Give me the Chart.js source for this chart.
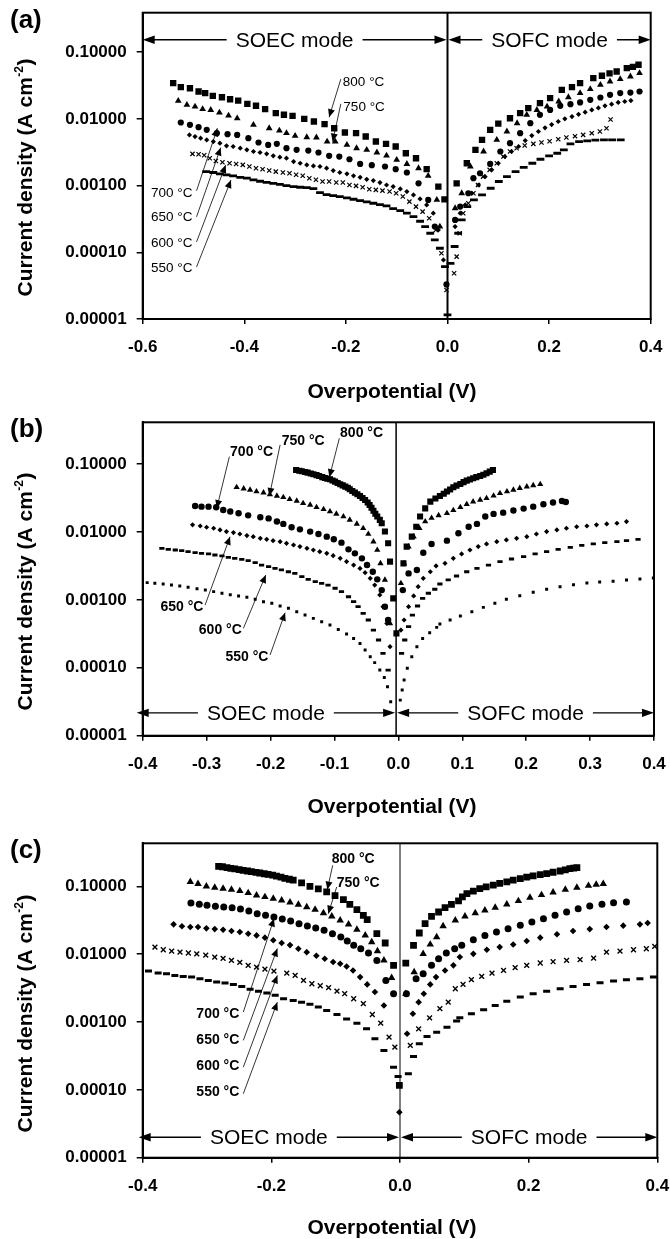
<!DOCTYPE html>
<html><head><meta charset="utf-8">
<script src="https://cdn.jsdelivr.net/npm/chart.js@4.4.1/dist/chart.umd.min.js"></script>
<style>
html,body{margin:0;padding:0;background:#fff;}
#wrap{position:relative;width:670px;height:1239px;overflow:hidden;background:#fff;}
#wrap canvas{position:absolute;left:0;}
</style></head>
<body><div id="wrap">
<canvas id="cA" width="670" height="410" style="top:0px"></canvas>
<canvas id="cB" width="670" height="410" style="top:410px"></canvas>
<canvas id="cC" width="670" height="419" style="top:820px"></canvas>
</div>
<script>
// ---------- tick labels ----------
const yTickVals = [0.00001, 0.0001, 0.001, 0.01, 0.1];
const yTickLabels = ['0.00001', '0.00010', '0.00100', '0.01000', '0.10000'];
const xTicksA = [-0.6, -0.4, -0.2, 0.0, 0.2, 0.4];
const xTickLabelsA = ['-0.6', '-0.4', '-0.2', '0.0', '0.2', '0.4'];
const xTicksB = [-0.4, -0.3, -0.2, -0.1, 0.0, 0.1, 0.2, 0.3, 0.4];
const xTickLabelsB = ['-0.4', '-0.3', '-0.2', '-0.1', '0.0', '0.1', '0.2', '0.3', '0.4'];
const xTicksC = [-0.4, -0.2, 0.0, 0.2, 0.4];
const xTickLabelsC = ['-0.4', '-0.2', '0.0', '0.2', '0.4'];
const seriesNames = ['800 °C', '750 °C', '700 °C', '650 °C', '600 °C', '550 °C'];

// ---------- panel (a) data: [overpotential V, current density A cm-2] ----------
const a800 = [[-0.540,0.0343],[-0.525,0.0299],[-0.507,0.0288],[-0.490,0.0257],[-0.477,0.0243],[-0.462,0.0221],[-0.444,0.0211],[-0.428,0.0197],[-0.412,0.0188],[-0.394,0.0168],[-0.377,0.0157],[-0.359,0.0140],[-0.338,0.0122],[-0.322,0.0115],[-0.305,0.0111],[-0.282,0.0100],[-0.263,0.00912],[-0.242,0.00832],[-0.223,0.00724],[-0.202,0.00624],[-0.180,0.00610],[-0.161,0.00543],[-0.141,0.00457],[-0.121,0.00422],[-0.102,0.00385],[-0.082,0.00305],[-0.062,0.00257],[-0.041,0.00176],[-0.018,0.000966],[-0.006,0.00062],
[0.018,0.00108],[0.038,0.00216],[0.055,0.00343],[0.068,0.00484],[0.084,0.00684],[0.100,0.0085],[0.123,0.0102],[0.143,0.0122],[0.159,0.0145],[0.182,0.0172],[0.202,0.0204],[0.225,0.0272],[0.245,0.0299],[0.261,0.0343],[0.287,0.0407],[0.304,0.0442],[0.319,0.0480],[0.333,0.0513],[0.353,0.0575],[0.365,0.0600],[0.376,0.0646]];
const a750 = [[-0.530,0.0186],[-0.513,0.0162],[-0.497,0.0153],[-0.482,0.0140],[-0.466,0.0136],[-0.449,0.0124],[-0.431,0.0112],[-0.414,0.0102],[-0.382,0.00813],[-0.351,0.00724],[-0.331,0.00668],[-0.317,0.00610],[-0.300,0.00556],[-0.277,0.00531],[-0.258,0.00525],[-0.237,0.00457],[-0.221,0.00457],[-0.198,0.00407],[-0.179,0.00363],[-0.159,0.00343],[-0.139,0.00313],[-0.120,0.00282],[-0.100,0.00243],[-0.080,0.00211],[-0.057,0.00182],[-0.038,0.00140],[-0.021,0.00061],[-0.015,0.000243],
[0.015,0.000457],[0.028,0.000767],[0.045,0.00193],[0.071,0.00324],[0.097,0.00484],[0.117,0.00646],[0.137,0.00861],[0.156,0.0115],[0.176,0.0136],[0.196,0.0153],[0.219,0.0182],[0.238,0.0211],[0.261,0.0243],[0.281,0.0279],[0.301,0.0324],[0.320,0.0363],[0.340,0.0394],[0.360,0.0432],[0.378,0.0484]];
const a700 = [[-0.525,0.00881],[-0.507,0.00813],[-0.490,0.00750],[-0.474,0.00684],[-0.454,0.00610],[-0.433,0.00589],[-0.414,0.00575],[-0.392,0.00513],[-0.372,0.00442],[-0.353,0.00407],[-0.336,0.00422],[-0.317,0.00363],[-0.297,0.00343],[-0.274,0.00335],[-0.254,0.00313],[-0.233,0.00279],[-0.213,0.00272],[-0.193,0.00248],[-0.172,0.00211],[-0.149,0.00202],[-0.123,0.00193],[-0.102,0.00176],[-0.080,0.00157],[-0.057,0.00108],[-0.038,0.00061],[-0.025,0.000243],[-0.002,0.000033],
[0.015,0.000305],[0.025,0.000484],[0.041,0.000767],[0.051,0.00129],[0.064,0.00153],[0.084,0.00211],[0.104,0.00324],[0.123,0.00432],[0.143,0.00610],[0.163,0.00861],[0.182,0.0115],[0.202,0.0136],[0.222,0.0157],[0.242,0.0166],[0.261,0.0176],[0.281,0.0193],[0.301,0.0209],[0.320,0.0229],[0.340,0.0243],[0.360,0.0248],[0.378,0.0257]];
const a650 = [[-0.508,0.00575],[-0.497,0.00543],[-0.486,0.00513],[-0.474,0.00484],[-0.461,0.00457],[-0.448,0.00432],[-0.435,0.00394],[-0.422,0.00385],[-0.408,0.00363],[-0.395,0.00343],[-0.382,0.00324],[-0.369,0.00313],[-0.356,0.00299],[-0.343,0.00279],[-0.330,0.00266],[-0.317,0.00257],[-0.303,0.00229],[-0.290,0.00216],[-0.277,0.00204],[-0.264,0.00197],[-0.251,0.00193],[-0.238,0.00182],[-0.225,0.00168],[-0.212,0.00157],[-0.198,0.00150],[-0.185,0.00140],[-0.172,0.00133],[-0.159,0.00124],[-0.146,0.00119],[-0.133,0.00111],[-0.120,0.00102],[-0.107,0.000966],[-0.093,0.000891],[-0.080,0.000813],[-0.067,0.000724],[-0.054,0.000631],[-0.041,0.000513],[-0.028,0.000385],[-0.018,0.000216],[-0.008,0.0000767],
[0.015,0.000243],[0.025,0.000385],[0.035,0.000513],[0.048,0.000767],[0.061,0.00102],[0.074,0.00136],[0.087,0.00172],[0.100,0.00216],[0.113,0.00272],[0.126,0.00324],[0.140,0.00385],[0.153,0.00473],[0.166,0.00562],[0.179,0.00646],[0.192,0.00733],[0.205,0.00822],[0.218,0.00912],[0.231,0.0100],[0.245,0.0108],[0.258,0.0117],[0.271,0.0126],[0.284,0.0136],[0.297,0.0146],[0.310,0.0157],[0.323,0.0166],[0.336,0.0176],[0.349,0.0182],[0.361,0.0188]];
const a600 = [[-0.502,0.00299],[-0.490,0.00295],[-0.479,0.00285],[-0.468,0.00257],[-0.456,0.00234],[-0.443,0.00224],[-0.429,0.00216],[-0.416,0.00211],[-0.403,0.00204],[-0.390,0.00193],[-0.377,0.00182],[-0.364,0.00176],[-0.351,0.00168],[-0.338,0.00162],[-0.324,0.00157],[-0.311,0.00153],[-0.298,0.00145],[-0.285,0.00140],[-0.272,0.00129],[-0.259,0.00122],[-0.246,0.00115],[-0.233,0.00115],[-0.219,0.00111],[-0.206,0.00111],[-0.193,0.00102],[-0.180,0.000989],[-0.167,0.000944],[-0.154,0.000881],[-0.141,0.000861],[-0.128,0.000841],[-0.114,0.000813],[-0.101,0.000767],[-0.088,0.000684],[-0.075,0.000575],[-0.062,0.000484],[-0.049,0.000407],[-0.036,0.000324],[-0.023,0.000216],[-0.012,0.0000966],[-0.002,0.0000272],
[0.013,0.0000484],[0.018,0.0000861],[0.024,0.000193],[0.031,0.000385],[0.041,0.000543],[0.051,0.000767],[0.060,0.00102],[0.070,0.00136],[0.083,0.00172],[0.097,0.00216],[0.110,0.00272],[0.123,0.00324],[0.136,0.00363],[0.152,0.00398],[0.169,0.00422],[0.185,0.00442],[0.201,0.00462],[0.218,0.00495],[0.234,0.00525],[0.251,0.00550],[0.267,0.00575],[0.284,0.00610],[0.300,0.00646],[0.313,0.00724],[0.321,0.0098]];
const a550 = [[-0.475,0.00162],[-0.461,0.00157],[-0.448,0.00150],[-0.435,0.00145],[-0.422,0.00140],[-0.408,0.00133],[-0.395,0.00129],[-0.382,0.00122],[-0.369,0.00116],[-0.356,0.00112],[-0.343,0.00108],[-0.330,0.00104],[-0.317,0.00100],[-0.303,0.000966],[-0.290,0.000944],[-0.277,0.000933],[-0.264,0.000902],[-0.251,0.000785],[-0.238,0.000733],[-0.225,0.000708],[-0.212,0.000684],[-0.198,0.000653],[-0.185,0.000624],[-0.172,0.000596],[-0.159,0.000569],[-0.146,0.000543],[-0.133,0.000519],[-0.120,0.000495],[-0.107,0.000452],[-0.093,0.000422],[-0.080,0.000385],[-0.067,0.000343],[-0.054,0.000292],[-0.044,0.000243],[-0.034,0.000193],[-0.025,0.000153],[-0.015,0.000115],[-0.005,0.0000610],[0.000,0.0000115],
[0.006,0.0000684],[0.014,0.000122],[0.021,0.000193],[0.028,0.000305],[0.039,0.000484],[0.052,0.000610],[0.068,0.000724],[0.085,0.000912],[0.101,0.00115],[0.117,0.00136],[0.134,0.00162],[0.150,0.00188],[0.167,0.00216],[0.183,0.00248],[0.200,0.00279],[0.216,0.00305],[0.229,0.00343],[0.242,0.00422],[0.259,0.00457],[0.275,0.00468],[0.291,0.00479],[0.308,0.00484],[0.324,0.00484],[0.341,0.00484]];

// ---------- panel (b) data ----------
const b800 = [[-0.160,0.0816],[-0.155,0.0795],[-0.151,0.0780],[-0.146,0.0760],[-0.142,0.0745],[-0.137,0.0725],[-0.133,0.0705],[-0.128,0.0685],[-0.124,0.0665],[-0.119,0.0640],[-0.115,0.0622],[-0.111,0.0608],[-0.107,0.0594],[-0.103,0.0570],[-0.099,0.0549],[-0.095,0.0525],[-0.091,0.0502],[-0.087,0.0483],[-0.083,0.0464],[-0.079,0.0445],[-0.076,0.0424],[-0.072,0.0400],[-0.068,0.0378],[-0.064,0.0358],[-0.060,0.0338],[-0.056,0.0315],[-0.052,0.0295],[-0.048,0.0270],[-0.045,0.0249],[-0.042,0.0227],[-0.039,0.0205],[-0.036,0.0185],[-0.033,0.0168],[-0.029,0.0150],[-0.026,0.0134],[-0.021,0.0101],[-0.016,0.00679],[-0.013,0.00365],[-0.008,0.00105],[-0.003,0.000321],
[0.008,0.00344],[0.013,0.00607],[0.021,0.00851],[0.028,0.0119],[0.034,0.0168],[0.042,0.0222],[0.050,0.0279],[0.058,0.0310],[0.065,0.0338],[0.071,0.0365],[0.076,0.0392],[0.081,0.0420],[0.086,0.0453],[0.091,0.0480],[0.097,0.0507],[0.102,0.0540],[0.107,0.0568],[0.112,0.0590],[0.117,0.0615],[0.122,0.0640],[0.128,0.0665],[0.133,0.0695],[0.138,0.0728],[0.143,0.0770],[0.148,0.0816]];
const b750 = [[-0.253,0.0453],[-0.242,0.0433],[-0.232,0.0414],[-0.222,0.0392],[-0.211,0.0378],[-0.201,0.0357],[-0.190,0.0338],[-0.180,0.0323],[-0.170,0.0302],[-0.159,0.0285],[-0.149,0.0264],[-0.138,0.0249],[-0.128,0.0230],[-0.117,0.0215],[-0.107,0.0199],[-0.097,0.0184],[-0.086,0.0168],[-0.076,0.0150],[-0.065,0.0131],[-0.055,0.0113],[-0.047,0.00931],[-0.039,0.00718],[-0.033,0.00541],[-0.028,0.00344],[-0.021,0.00196],[-0.013,0.000450],
[0.004,0.00175],[0.009,0.00344],[0.016,0.00607],[0.024,0.00851],[0.033,0.0113],[0.042,0.0142],[0.052,0.0160],[0.063,0.0175],[0.076,0.0188],[0.086,0.0208],[0.097,0.0230],[0.107,0.0255],[0.117,0.0279],[0.128,0.0295],[0.138,0.0312],[0.149,0.0340],[0.159,0.0370],[0.170,0.0392],[0.180,0.0414],[0.190,0.0440],[0.201,0.0464],[0.211,0.0484],[0.222,0.0502]];
const b700 = [[-0.318,0.0240],[-0.308,0.0235],[-0.297,0.0235],[-0.285,0.0230],[-0.274,0.0210],[-0.263,0.0199],[-0.250,0.0188],[-0.235,0.0175],[-0.216,0.0164],[-0.203,0.0158],[-0.190,0.0142],[-0.180,0.0131],[-0.167,0.0117],[-0.154,0.0109],[-0.138,0.0101],[-0.125,0.00931],[-0.112,0.00851],[-0.101,0.00778],[-0.089,0.00694],[-0.078,0.00553],[-0.068,0.00483],[-0.057,0.00408],[-0.049,0.00325],[-0.040,0.00259],[-0.033,0.00200],[-0.026,0.00139],[-0.021,0.000792],[-0.016,0.000505],
[0.007,0.00139],[0.016,0.00245],[0.029,0.00275],[0.039,0.00494],[0.052,0.00664],[0.076,0.00743],[0.094,0.00953],[0.110,0.0119],[0.123,0.0131],[0.136,0.0168],[0.149,0.0184],[0.164,0.0192],[0.180,0.0206],[0.196,0.0220],[0.211,0.0235],[0.227,0.0255],[0.242,0.0270],[0.256,0.0285],[0.262,0.0275]];
const b650 = [[-0.322,0.0127],[-0.310,0.0122],[-0.300,0.0117],[-0.289,0.0113],[-0.279,0.0107],[-0.269,0.0101],[-0.258,0.00975],[-0.248,0.00931],[-0.237,0.00881],[-0.227,0.00851],[-0.216,0.00804],[-0.206,0.00778],[-0.196,0.00743],[-0.185,0.00718],[-0.175,0.00679],[-0.164,0.00641],[-0.154,0.00607],[-0.143,0.00573],[-0.133,0.00541],[-0.123,0.00512],[-0.112,0.00483],[-0.102,0.00447],[-0.091,0.00408],[-0.081,0.00365],[-0.070,0.00325],[-0.060,0.00290],[-0.052,0.00251],[-0.044,0.00207],[-0.037,0.00165],[-0.029,0.00118],[-0.024,0.000792],[-0.018,0.000450],[-0.013,0.000204],
[0.004,0.000359],[0.009,0.000505],[0.016,0.000792],[0.024,0.00114],[0.031,0.00156],[0.039,0.00207],[0.050,0.00259],[0.059,0.00315],[0.073,0.00344],[0.086,0.00408],[0.099,0.00473],[0.112,0.00541],[0.125,0.00607],[0.138,0.00664],[0.154,0.00718],[0.169,0.00760],[0.185,0.00804],[0.201,0.00851],[0.216,0.00931],[0.232,0.0101],[0.248,0.0107],[0.263,0.0113],[0.279,0.0119],[0.295,0.0122],[0.310,0.0127],[0.326,0.0131],[0.342,0.0134],[0.357,0.0142]];
const b600 = [[-0.370,0.00573],[-0.360,0.00553],[-0.349,0.00541],[-0.339,0.00529],[-0.329,0.00512],[-0.318,0.00494],[-0.308,0.00483],[-0.297,0.00473],[-0.287,0.00457],[-0.276,0.00442],[-0.266,0.00422],[-0.256,0.00408],[-0.245,0.00394],[-0.235,0.00377],[-0.224,0.00352],[-0.214,0.00325],[-0.203,0.00308],[-0.193,0.00290],[-0.183,0.00275],[-0.172,0.00259],[-0.162,0.00245],[-0.151,0.00219],[-0.141,0.00200],[-0.130,0.00185],[-0.120,0.00175],[-0.110,0.00165],[-0.099,0.00148],[-0.089,0.00132],[-0.078,0.00111],[-0.070,0.000938],[-0.063,0.000792],[-0.055,0.000632],[-0.047,0.000505],[-0.039,0.000359],[-0.031,0.000256],[-0.024,0.000163],[-0.016,0.0000925],
[0.005,0.000163],[0.010,0.000256],[0.016,0.000402],[0.022,0.000597],[0.030,0.000811],[0.038,0.00105],[0.047,0.00125],[0.057,0.00143],[0.065,0.00171],[0.078,0.00196],[0.091,0.00224],[0.107,0.00259],[0.123,0.00290],[0.141,0.00325],[0.159,0.00365],[0.177,0.00399],[0.196,0.00432],[0.214,0.00473],[0.232,0.00512],[0.250,0.00553],[0.269,0.00593],[0.287,0.00634],[0.305,0.00664],[0.323,0.00694],[0.342,0.00718],[0.357,0.00743],[0.375,0.00778]];
const b550 = [[-0.393,0.00179],[-0.381,0.00175],[-0.368,0.00171],[-0.355,0.00165],[-0.342,0.00160],[-0.329,0.00153],[-0.315,0.00146],[-0.302,0.00139],[-0.289,0.00132],[-0.276,0.00125],[-0.263,0.00119],[-0.250,0.00114],[-0.237,0.00109],[-0.224,0.00102],[-0.211,0.000938],[-0.198,0.000887],[-0.185,0.000811],[-0.172,0.000749],[-0.159,0.000668],[-0.146,0.000597],[-0.133,0.000533],[-0.120,0.000476],[-0.107,0.000425],[-0.094,0.000367],[-0.081,0.000313],[-0.070,0.000270],[-0.060,0.000228],[-0.052,0.000182],[-0.044,0.000145],[-0.037,0.000119],[-0.029,0.0000925],[-0.022,0.0000721],[-0.017,0.0000526],[-0.012,0.0000316],
[0.003,0.0000334],[0.006,0.0000470],[0.009,0.0000659],[0.014,0.0000980],[0.021,0.000145],[0.029,0.000204],[0.038,0.000270],[0.049,0.000328],[0.060,0.000393],[0.065,0.000441],[0.081,0.000505],[0.097,0.000577],[0.115,0.000668],[0.133,0.000774],[0.151,0.000887],[0.169,0.00102],[0.190,0.00115],[0.211,0.00129],[0.232,0.00143],[0.253,0.00156],[0.274,0.00167],[0.295,0.00177],[0.315,0.00183],[0.336,0.00187],[0.357,0.00196],[0.378,0.00202],[0.399,0.00209]];

// ---------- panel (c) data ----------
const c800 = [[-0.282,0.197],[-0.276,0.194],[-0.269,0.188],[-0.263,0.184],[-0.257,0.180],[-0.250,0.176],[-0.244,0.172],[-0.237,0.168],[-0.231,0.164],[-0.224,0.160],[-0.218,0.157],[-0.211,0.153],[-0.205,0.150],[-0.198,0.146],[-0.192,0.141],[-0.185,0.136],[-0.179,0.131],[-0.172,0.127],[-0.166,0.123],[-0.153,0.112],[-0.140,0.100],[-0.127,0.0914],[-0.114,0.0825],[-0.101,0.0728],[-0.088,0.0635],[-0.078,0.0542],[-0.067,0.0453],[-0.057,0.0373],[-0.051,0.0322],[-0.036,0.0200],[-0.023,0.0146],[-0.010,0.00683],[-0.001,0.000116],
[0.009,0.00739],[0.021,0.0135],[0.030,0.0205],[0.039,0.0281],[0.049,0.0361],[0.060,0.0418],[0.070,0.0484],[0.080,0.0542],[0.091,0.0608],[0.097,0.0700],[0.104,0.0780],[0.114,0.0850],[0.124,0.0925],[0.134,0.0980],[0.145,0.104],[0.155,0.110],[0.166,0.116],[0.176,0.123],[0.187,0.130],[0.197,0.136],[0.207,0.142],[0.218,0.148],[0.228,0.154],[0.238,0.161],[0.249,0.168],[0.257,0.175],[0.264,0.182],[0.270,0.185],[0.275,0.188]];
const c750 = [[-0.326,0.116],[-0.314,0.109],[-0.301,0.100],[-0.288,0.0955],[-0.275,0.0925],[-0.262,0.0893],[-0.249,0.0853],[-0.236,0.0797],[-0.223,0.0736],[-0.210,0.0696],[-0.197,0.0657],[-0.184,0.0621],[-0.171,0.0581],[-0.158,0.0536],[-0.145,0.0495],[-0.132,0.0453],[-0.119,0.0404],[-0.106,0.0361],[-0.093,0.0315],[-0.080,0.0275],[-0.067,0.0230],[-0.054,0.0189],[-0.044,0.0151],[-0.035,0.0111],[-0.025,0.00809],[-0.013,0.00449],
[0.009,0.00261],[0.022,0.00545],[0.036,0.0101],[0.047,0.0139],[0.057,0.0179],[0.067,0.0260],[0.086,0.0315],[0.101,0.0361],[0.117,0.0404],[0.132,0.0442],[0.148,0.0484],[0.166,0.0542],[0.184,0.0608],[0.202,0.0681],[0.220,0.0745],[0.238,0.0815],[0.257,0.0893],[0.275,0.0955],[0.293,0.102],[0.305,0.106],[0.316,0.109]];
const c700 = [[-0.325,0.0568],[-0.312,0.0542],[-0.300,0.0525],[-0.287,0.0507],[-0.274,0.0495],[-0.261,0.0484],[-0.248,0.0463],[-0.235,0.0432],[-0.222,0.0395],[-0.209,0.0373],[-0.196,0.0352],[-0.183,0.0330],[-0.170,0.0308],[-0.157,0.0281],[-0.144,0.0260],[-0.131,0.0243],[-0.118,0.0224],[-0.105,0.0200],[-0.092,0.0179],[-0.082,0.0156],[-0.072,0.0135],[-0.061,0.0120],[-0.049,0.0104],[-0.036,0.00809],[-0.022,0.00410],[-0.010,0.00261],
[0.010,0.00261],[0.025,0.00434],[0.036,0.00514],[0.049,0.00683],[0.060,0.00857],[0.072,0.0104],[0.085,0.0120],[0.096,0.0135],[0.114,0.0163],[0.132,0.0189],[0.150,0.0212],[0.168,0.0237],[0.187,0.0266],[0.205,0.0298],[0.223,0.0333],[0.241,0.0373],[0.259,0.0418],[0.277,0.0468],[0.295,0.0513],[0.314,0.0542],[0.332,0.0574],[0.352,0.0587]];
const c650 = [[-0.352,0.0275],[-0.339,0.0257],[-0.326,0.0251],[-0.314,0.0251],[-0.301,0.0240],[-0.288,0.0234],[-0.275,0.0229],[-0.262,0.0219],[-0.249,0.0212],[-0.236,0.0200],[-0.223,0.0189],[-0.210,0.0175],[-0.197,0.0160],[-0.184,0.0146],[-0.171,0.0136],[-0.158,0.0120],[-0.145,0.0107],[-0.130,0.00948],[-0.117,0.00857],[-0.104,0.00764],[-0.093,0.00722],[-0.083,0.00659],[-0.073,0.00575],[-0.062,0.00459],[-0.051,0.00358],[-0.039,0.00276],[-0.025,0.00175],[-0.001,0.0000468],
[0.011,0.000670],[0.020,0.00132],[0.029,0.00196],[0.037,0.00261],[0.047,0.00358],[0.056,0.00459],[0.070,0.00575],[0.083,0.00683],[0.093,0.00906],[0.114,0.0101],[0.135,0.0116],[0.155,0.0127],[0.176,0.0139],[0.197,0.0156],[0.218,0.0175],[0.244,0.0196],[0.269,0.0219],[0.295,0.0234],[0.321,0.0251],[0.347,0.0263],[0.373,0.0275],[0.385,0.0288]];
const c600 = [[-0.381,0.0127],[-0.368,0.0116],[-0.355,0.0111],[-0.342,0.0107],[-0.329,0.0104],[-0.316,0.0101],[-0.302,0.00970],[-0.288,0.00906],[-0.275,0.00866],[-0.262,0.00809],[-0.249,0.00756],[-0.236,0.00683],[-0.223,0.00645],[-0.210,0.00602],[-0.196,0.00563],[-0.176,0.00526],[-0.163,0.00486],[-0.150,0.00410],[-0.137,0.00366],[-0.124,0.00342],[-0.111,0.00320],[-0.098,0.00285],[-0.086,0.00261],[-0.072,0.00220],[-0.057,0.00186],[-0.043,0.00129],[-0.030,0.000962],[-0.017,0.000598],[-0.008,0.000425],
[0.016,0.000451],[0.029,0.000794],[0.046,0.00115],[0.062,0.00157],[0.075,0.00196],[0.086,0.00309],[0.098,0.00358],[0.111,0.00420],[0.127,0.00470],[0.143,0.00526],[0.161,0.00575],[0.179,0.00631],[0.197,0.00683],[0.218,0.00740],[0.238,0.00773],[0.259,0.00809],[0.280,0.00828],[0.301,0.00875],[0.321,0.0107],[0.342,0.0111],[0.363,0.0116],[0.383,0.0120],[0.396,0.0130]];
const c550 = [[-0.391,0.00563],[-0.376,0.00526],[-0.363,0.00514],[-0.350,0.00486],[-0.337,0.00470],[-0.324,0.00459],[-0.311,0.00434],[-0.298,0.00410],[-0.285,0.00387],[-0.272,0.00375],[-0.259,0.00358],[-0.246,0.00334],[-0.233,0.00305],[-0.220,0.00285],[-0.207,0.00267],[-0.194,0.00247],[-0.181,0.00220],[-0.166,0.00208],[-0.153,0.00196],[-0.140,0.00182],[-0.127,0.00166],[-0.114,0.00148],[-0.098,0.00129],[-0.083,0.00111],[-0.067,0.000962],[-0.052,0.000794],[-0.039,0.000565],[-0.025,0.000380],[-0.010,0.000216],[-0.003,0.000157],
[0.013,0.000172],[0.021,0.000310],[0.030,0.000476],[0.042,0.000612],[0.057,0.000708],[0.073,0.000839],[0.088,0.00103],[0.093,0.00115],[0.111,0.00132],[0.130,0.00151],[0.148,0.00175],[0.166,0.00203],[0.187,0.00233],[0.207,0.00261],[0.228,0.00285],[0.249,0.00309],[0.269,0.00334],[0.290,0.00358],[0.311,0.00379],[0.332,0.00401],[0.352,0.00420],[0.373,0.00434],[0.394,0.00459]];

// ---------- annotation anchors (in data units) ----------
const annA = [
  {t:seriesNames[0], tx:-0.206, ty:0.0358, al:'left', x1:-0.210, y1:0.0394, x2:-0.233, y2:0.0106},
  {t:seriesNames[1], tx:-0.205, ty:0.0149, al:'left', x1:-0.210, y1:0.0168, x2:-0.226, y2:0.00455},
  {t:seriesNames[2], tx:-0.502, ty:0.000764, al:'right', x1:-0.494, y1:0.000836, x2:-0.453, y2:0.00723},
  {t:seriesNames[3], tx:-0.502, ty:0.000329, al:'right', x1:-0.494, y1:0.000340, x2:-0.4465, y2:0.00370},
  {t:seriesNames[4], tx:-0.502, ty:0.000138, al:'right', x1:-0.494, y1:0.000143, x2:-0.4366, y2:0.00203},
  {t:seriesNames[5], tx:-0.502, ty:0.0000571, al:'right', x1:-0.494, y1:0.0000604, x2:-0.4262, y2:0.00121}
];
const annB = [
  {t:seriesNames[0], tx:-0.0912, ty:0.283, al:'left', x1:-0.0923, y1:0.239, x2:-0.1079, y2:0.0637},
  {t:seriesNames[1], tx:-0.1824, ty:0.213, al:'left', x1:-0.1850, y1:0.191, x2:-0.2018, y2:0.0338},
  {t:seriesNames[2], tx:-0.2633, ty:0.147, al:'left', x1:-0.2644, y1:0.128, x2:-0.2841, y2:0.0223},
  {t:seriesNames[3], tx:-0.3050, ty:0.000791, al:'right', x1:-0.3024, y1:0.000838, x2:-0.2633, y2:0.00849},
  {t:seriesNames[4], tx:-0.2450, ty:0.000359, al:'right', x1:-0.2425, y1:0.000380, x2:-0.2074, y2:0.00232},
  {t:seriesNames[5], tx:-0.2033, ty:0.000145, al:'right', x1:-0.2007, y1:0.000154, x2:-0.1772, y2:0.000646}
];
const annC = [
  {t:seriesNames[0], tx:-0.1062, ty:0.248, al:'left', x1:-0.1046, y1:0.204, x2:-0.1130, y2:0.0894},
  {t:seriesNames[1], tx:-0.0984, ty:0.112, al:'left', x1:-0.0984, y1:0.0977, x2:-0.1115, y2:0.0395},
  {t:seriesNames[2], tx:-0.2498, ty:0.00132, al:'right', x1:-0.2436, y1:0.00140, x2:-0.1959, y2:0.0334},
  {t:seriesNames[3], tx:-0.2498, ty:0.000548, al:'right', x1:-0.2436, y1:0.000536, x2:-0.1907, y2:0.0121},
  {t:seriesNames[4], tx:-0.2498, ty:0.000221, al:'right', x1:-0.2436, y1:0.000216, x2:-0.1907, y2:0.00486},
  {t:seriesNames[5], tx:-0.2498, ty:0.0000925, al:'right', x1:-0.2436, y1:0.0000875, x2:-0.1907, y2:0.00196}
];

const FONT = '"Liberation Sans", Arial, Helvetica, sans-serif';

function arrowHead(ctx, x1, y1, x2, y2, len, hw) {
  const a = Math.atan2(y2 - y1, x2 - x1);
  const bx = x2 - len * Math.cos(a), by = y2 - len * Math.sin(a);
  ctx.beginPath();
  ctx.moveTo(x2, y2);
  ctx.lineTo(bx + hw * Math.sin(a), by - hw * Math.cos(a));
  ctx.lineTo(bx - hw * Math.sin(a), by + hw * Math.cos(a));
  ctx.closePath();
  ctx.fill();
}

function modeArrow(ctx, xa, xb, y, text) {
  ctx.font = '21px ' + FONT;
  const w = ctx.measureText(text).width;
  const mid = (xa + xb) / 2, gap = 9;
  ctx.lineWidth = 1.4;
  ctx.beginPath();
  ctx.moveTo(xa + 4, y); ctx.lineTo(mid - w / 2 - gap, y);
  ctx.moveTo(mid + w / 2 + gap, y); ctx.lineTo(xb - 4, y);
  ctx.stroke();
  arrowHead(ctx, xa + 12, y, xa, y, 12, 4.2);
  arrowHead(ctx, xb - 12, y, xb, y, 12, 4.2);
  ctx.textAlign = 'center'; ctx.textBaseline = 'middle';
  ctx.fillText(text, mid, y + 1);
}

function yTitle(ctx, cx, cy) {
  ctx.save();
  ctx.translate(cx, cy); ctx.rotate(-Math.PI / 2);
  const f1 = 'bold 21px ' + FONT, f2 = 'bold 12px ' + FONT;
  const s1 = 'Current density (A cm', s2 = '-2', s3 = ')';
  ctx.font = f1; const w1 = ctx.measureText(s1).width, w3 = ctx.measureText(s3).width;
  ctx.font = f2; const w2 = ctx.measureText(s2).width;
  let x = -(w1 + w2 + w3) / 2;
  ctx.textAlign = 'left'; ctx.textBaseline = 'alphabetic';
  const base = 7.5;
  ctx.font = f1; ctx.fillText(s1, x, base); x += w1;
  ctx.font = f2; ctx.fillText(s2, x + 0.5, base - 9); x += w2 + 1;
  ctx.font = f1; ctx.fillText(s3, x, base);
  ctx.restore();
}

function makePanel(c) {
  const datasets = c.series.map(s => ({
    label: s.name,
    data: s.data.map(p => ({x: p[0], y: p[1]})),
    pointStyle: s.ps, pointRadius: s.r, pointHoverRadius: s.r,
    pointBackgroundColor: '#000', pointBorderColor: '#000', pointBorderWidth: s.bw || 0,
    showLine: false
  }));
  const decor = {
    id: 'decor' + c.id,
    beforeDatasetsDraw(chart) {
      const {ctx, chartArea: a, scales: {x}} = chart;
      ctx.save();
      ctx.strokeStyle = '#000'; ctx.lineWidth = c.zeroW;
      const zx = x.getPixelForValue(c.zeroX);
      ctx.beginPath(); ctx.moveTo(zx, a.top); ctx.lineTo(zx, a.bottom); ctx.stroke();
      ctx.restore();
    },
    afterDraw(chart) {
      const {ctx, chartArea: a, scales: {x, y}} = chart;
      ctx.save();
      ctx.strokeStyle = '#000'; ctx.fillStyle = '#000';
      ctx.lineWidth = 2;
      ctx.strokeRect(a.left, a.top, a.right - a.left, a.bottom - a.top);
      ctx.font = c.annFont; ctx.textBaseline = 'middle';
      c.ann.forEach(n => {
        ctx.textAlign = n.al;
        ctx.fillText(n.t, x.getPixelForValue(n.tx), y.getPixelForValue(n.ty));
        const x1 = x.getPixelForValue(n.x1), y1 = y.getPixelForValue(n.y1);
        const x2 = x.getPixelForValue(n.x2), y2 = y.getPixelForValue(n.y2);
        ctx.lineWidth = 0.8;
        ctx.beginPath(); ctx.moveTo(x1, y1); ctx.lineTo(x2, y2); ctx.stroke();
        arrowHead(ctx, x1, y1, x2, y2, 8, 3.5);
      });
      const zx = x.getPixelForValue(c.zeroX);
      const my = y.getPixelForValue(c.modeY);
      modeArrow(ctx, a.left - c.leftExt, zx - 1, my, 'SOEC mode');
      modeArrow(ctx, zx + 1, a.right, my, 'SOFC mode');
      ctx.font = 'bold 21px ' + FONT; ctx.textAlign = 'center'; ctx.textBaseline = 'middle';
      ctx.fillText('Overpotential (V)', 392, c.xTitleY);
      yTitle(ctx, 24, c.yTitleY);
      ctx.font = 'bold 26px ' + FONT; ctx.textAlign = 'left';
      ctx.fillText(c.letter, 10, c.letterY);
      ctx.restore();
    }
  };
  const tickFont = {family: FONT, size: 17, weight: 'bold'};
  new Chart(document.getElementById(c.id), {
    type: 'scatter',
    data: {datasets},
    options: {
      responsive: false, animation: false, devicePixelRatio: 1, events: [],
      layout: {padding: {left: 0, right: c.padRight, top: c.padTop, bottom: 0}},
      plugins: {legend: {display: false}, tooltip: {enabled: false}},
      scales: {
        x: {
          type: 'linear', min: c.xMin, max: c.xMax,
          afterBuildTicks: s => { s.ticks = c.xTicks.map(v => ({value: v})); },
          ticks: {autoSkip: false, maxRotation: 0, color: '#000', font: tickFont, padding: 13,
            callback: v => c.xLabels[c.xTicks.findIndex(t => Math.abs(t - v) < 1e-9)]},
          grid: {display: true, drawOnChartArea: false, drawTicks: true, tickLength: 5, color: '#000', lineWidth: 1.5},
          border: {display: true, color: '#000', width: 2},
          afterFit: s => { s.height = c.xAxisH; s.paddingLeft = 0; s.paddingRight = 0; }
        },
        y: {
          type: 'logarithmic', min: 0.00001, max: c.yMax,
          afterBuildTicks: s => { s.ticks = yTickVals.map(v => ({value: v})); },
          ticks: {autoSkip: false, color: '#000', font: tickFont, padding: 10,
            callback: v => yTickLabels[yTickVals.findIndex(t => Math.abs(Math.log10(t) - Math.log10(v)) < 1e-6)]},
          grid: {display: true, drawOnChartArea: false, drawTicks: true, tickLength: 6, color: '#000', lineWidth: 1.5},
          border: {display: true, color: '#000', width: 2},
          afterFit: s => { s.width = 142.7; s.paddingTop = 0; s.paddingBottom = 0; }
        }
      }
    },
    plugins: [decor]
  });
}

makePanel({
  id: 'cA', padTop: 12.7, padRight: 19.3, xAxisH: 91, xMin: -0.6, xMax: 0.4, yMax: 0.39,
  xTicks: xTicksA, xLabels: xTickLabelsA, zeroX: 0, zeroW: 2, leftExt: 0, modeY: 0.153,
  ann: annA, annFont: '13.5px ' + FONT, xTitleY: 392, yTitleY: 178, letter: '(a)', letterY: 21,
  series: [
    {name: seriesNames[0], data: a800, ps: 'rect', r: 4.5},
    {name: seriesNames[1], data: a750, ps: 'triangle', r: 3.9},
    {name: seriesNames[2], data: a700, ps: 'circle', r: 3.1},
    {name: seriesNames[3], data: a650, ps: 'rectRot', r: 2.6},
    {name: seriesNames[4], data: a600, ps: 'crossRot', r: 3.0, bw: 1.2},
    {name: seriesNames[5], data: a550, ps: 'line', r: 3.9, bw: 2.8}
  ]
});
makePanel({
  id: 'cB', padTop: 12.3, padRight: 16, xAxisH: 84.3, xMin: -0.4, xMax: 0.4, yMax: 0.41,
  xTicks: xTicksB, xLabels: xTickLabelsB, zeroX: -0.0035, zeroW: 1.5, leftExt: 6, modeY: 0.0000217,
  ann: annB, annFont: 'bold 14px ' + FONT, xTitleY: 397, yTitleY: 182, letter: '(b)', letterY: 20,
  series: [
    {name: seriesNames[0], data: b800, ps: 'rect', r: 4.3},
    {name: seriesNames[1], data: b750, ps: 'triangle', r: 3.6},
    {name: seriesNames[2], data: b700, ps: 'circle', r: 3.2},
    {name: seriesNames[3], data: b650, ps: 'rectRot', r: 2.6},
    {name: seriesNames[4], data: b600, ps: 'line', r: 2.6, bw: 2.8},
    {name: seriesNames[5], data: b550, ps: 'rect', r: 2.1}
  ]
});
makePanel({
  id: 'cC', padTop: 23.3, padRight: 12.7, xAxisH: 81.3, xMin: -0.4, xMax: 0.4, yMax: 0.43,
  xTicks: xTicksC, xLabels: xTickLabelsC, zeroX: 0, zeroW: 1, leftExt: 4, modeY: 0.0000200,
  ann: annC, annFont: 'bold 14px ' + FONT, xTitleY: 408, yTitleY: 194, letter: '(c)', letterY: 31,
  series: [
    {name: seriesNames[0], data: c800, ps: 'rect', r: 4.8},
    {name: seriesNames[1], data: c750, ps: 'triangle', r: 4.3},
    {name: seriesNames[2], data: c700, ps: 'circle', r: 3.5},
    {name: seriesNames[3], data: c650, ps: 'rectRot', r: 3.3},
    {name: seriesNames[4], data: c600, ps: 'crossRot', r: 3.4, bw: 1.4},
    {name: seriesNames[5], data: c550, ps: 'line', r: 3.5, bw: 3}
  ]
});
</script>
</body></html>
